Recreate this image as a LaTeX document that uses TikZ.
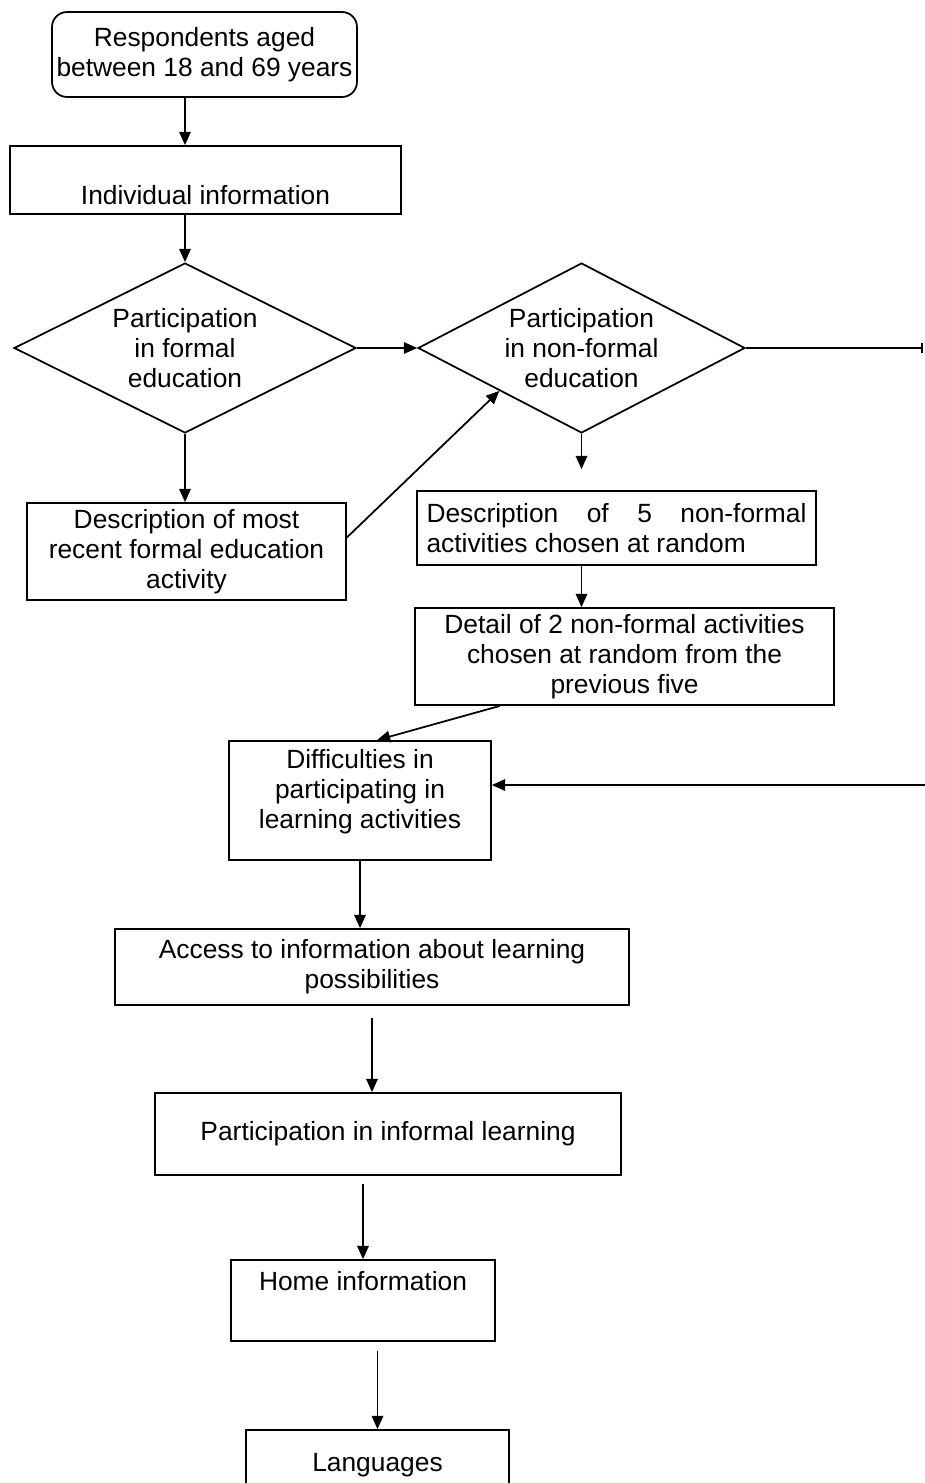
\documentclass[tikz,border=0pt]{standalone}
\usepackage{fontspec}
\setmainfont{Liberation Sans}
\usetikzlibrary{shapes.geometric, arrows.meta}

\begin{document}
\begin{tikzpicture}[
        x=0.02cm, y=-0.02cm,
        every node/.style={font=\fontsize{15}{17}\selectfont},
        mybox/.style={rectangle, draw, line width=1pt, align=center, inner sep=2pt},
        mydecision/.style={diamond, draw, line width=1pt, align=center, aspect=2, inner sep=0pt, minimum height=3.4cm},
        arrow/.style={-{Triangle[length=7.5pt, width=6.5pt]}, line width=1pt}
    ]
    \clip (0,0) rectangle (925,1483);
%
    \node[mybox, rounded corners=0.3cm, minimum width=6.1cm, minimum height=1.7cm] (start) at (204.5,54.5) {Respondents aged\\between 18 and 69 years};
    \node[mybox, minimum width=7.82cm, minimum height=1.36cm] (indiv) at (205.5,180) {\rule{0pt}{28pt}Individual information};
    \node[mydecision, minimum width=6.84cm] (dia1) at (185,348) {Participation\\in formal\\education};
    \node[mydecision, minimum width=6.54cm] (dia2) at (581.5,348) {Participation\\in non-formal\\education};
    \node[mybox, minimum width=6.38cm, minimum height=1.94cm] (desc1) at (186.5,551.5) {Description of most\\recent formal education\\activity};
    \node[mybox, align=justify, text width=7.6cm, inner xsep=0.19cm, minimum height=1.48cm] (desc5) at (616.5,528) {Description of 5 non-formal\linebreak activities chosen at random};
    \node[mybox, minimum width=8.38cm, minimum height=1.94cm] (detail2) at (624.5,656.5) {Detail of 2 non-formal activities\\chosen at random from the\\previous five};
    \node[mybox, minimum width=5.24cm, minimum height=2.38cm] (diff) at (360,800.5) {Difficulties in\\participating in\\learning activities\rule[-13pt]{0pt}{0pt}};
    \node[mybox, minimum width=10.28cm, minimum height=1.52cm] (access) at (372,967) {Access to information about learning\\possibilities};
    \node[mybox, minimum width=9.32cm, minimum height=1.64cm] (informal) at (388,1134) {Participation in informal learning};
    \node[mybox, minimum width=5.28cm, minimum height=1.62cm] (home) at (363,1300.5) {Home information\rule[-22pt]{0pt}{0pt}};
    \node[mybox, minimum width=5.26cm, minimum height=1.4cm] (lang) at (377.5,1465) {Languages};
%
    % loose ends at the right margin
    \coordinate (edgeA) at (923,348);
    \coordinate (edgeB) at (925,785);
%
    \draw[arrow] (start.south -| dia1.center) -- (indiv.north -| dia1.center);
    \draw[arrow] (indiv.south -| dia1.center) -- (dia1.north);
    \draw[arrow] (dia1.east) -- (dia2.west);
    \draw[-{Bar[width=6pt]}, line width=1pt] (dia2.east) -- (edgeA);
    \draw[arrow] (dia1.south) -- (desc1.north -| dia1.south);
    \draw[arrow] ([yshift=0.28cm]desc1.east) -- (dia2.south west);
    \draw[arrow, shorten >=0.42cm] (dia2.south) -- (desc5.north -| dia2.south);
    \draw[arrow] (desc5.south -| dia2.south) -- (detail2.north -| dia2.south);
    \draw[arrow] ([xshift=-2.49cm]detail2.south) -- ([xshift=0.34cm]diff.north);
    \draw[arrow] (edgeB) -- (edgeB -| diff.east);
%
    \draw[arrow] (diff.south) -- (diff.south |- access.north);
    \draw[arrow, shorten <=0.24cm] (access.south) -- (access.south |- informal.north);
    \draw[arrow, shorten <=0.16cm] (home.north |- informal.south) -- (home.north);
    \draw[arrow, shorten <=0.18cm] (lang.north |- home.south) -- (lang.north);
%
\end{tikzpicture}
\end{document}
